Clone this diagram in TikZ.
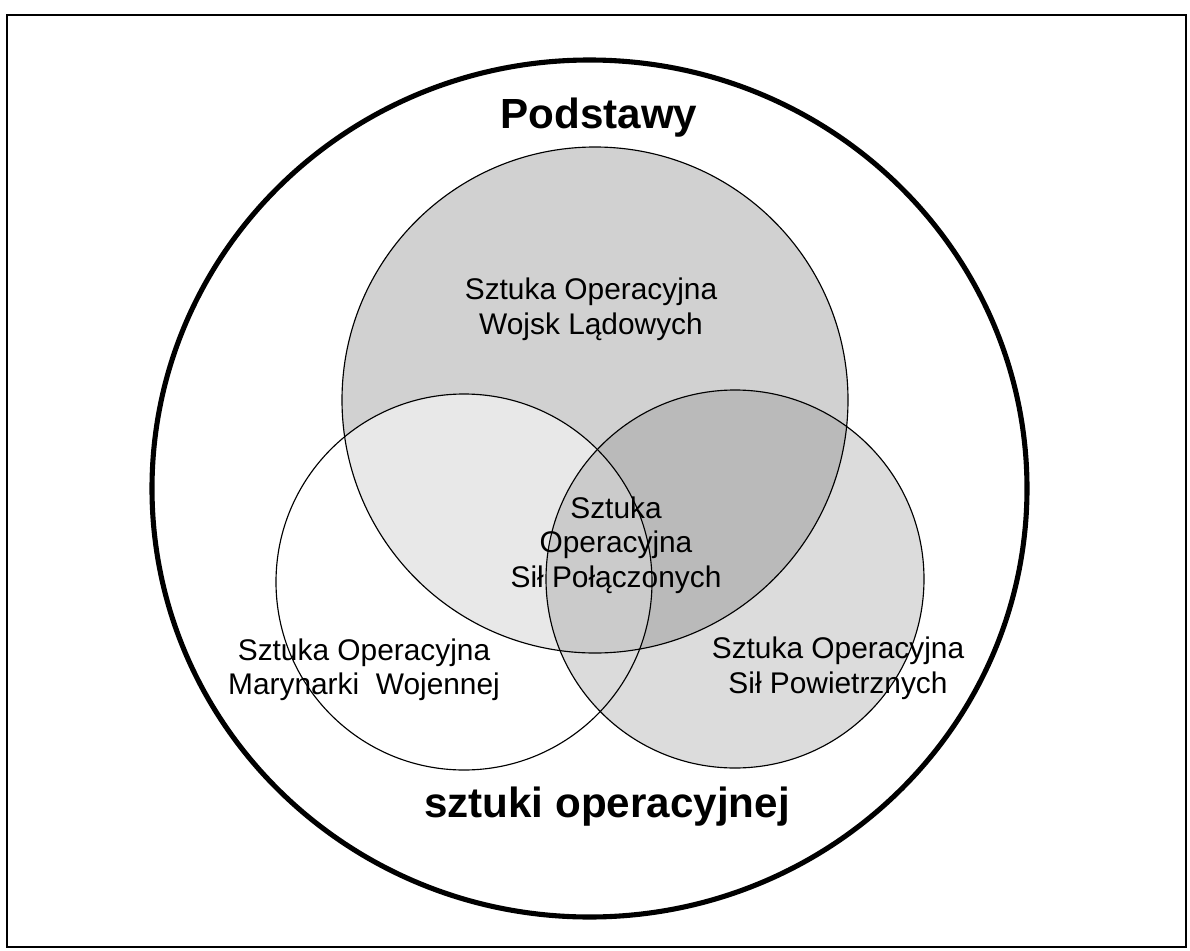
\documentclass[tikz,border=0pt]{standalone}
\usepackage{fontspec}
\setmainfont{Liberation Sans}
\begin{document}
\begin{tikzpicture}[x=0.02cm,y=-0.02cm,
  frame/.style={draw=black,line width=1.1pt},
  outer/.style={draw=black,line width=2.9pt},
  ring/.style={draw=black,line width=0.65pt},
  lbl/.style={font=\fontsize{17}{19.84}\selectfont,align=center,inner sep=0pt,anchor=center},
  ttl/.style={font=\fontsize{24}{28}\selectfont\bfseries,inner sep=0pt,anchor=base}]
\useasboundingbox (0,0) rectangle (1190,950);
% frame
\draw[frame] (7,15) rectangle (1186,947);
% fills
\fill[black!18] (595,400) circle[radius=253];
\fill[white,fill opacity=0.5] (464,582) circle[radius=188];
\fill[black!50,fill opacity=0.28] (735,579) circle[radius=189];
% outlines
\draw[ring] (595,400) circle[radius=253];
\draw[ring] (464,582) circle[radius=188];
\draw[ring] (735,579) circle[radius=189];
\draw[outer] (589.5,488.5) ellipse[x radius=437.5,y radius=428.5];
% texts
\node[ttl] (podstawy) at (599,128) {Podstawy};
\node[ttl] (sztuki) at (607,817) {sztuki operacyjnej};
\node[lbl] (wl) at (591,309.6) {Sztuka Operacyjna\\Wojsk Lądowych};
\node[lbl] (sp) at (616,545.2) {Sztuka\\Operacyjna\\Sił Połączonych};
\node[lbl] (mw) at (364,669.7) {Sztuka Operacyjna\\Marynarki\ \ Wojennej};
\node[lbl] (spw) at (838,668) {Sztuka Operacyjna\\Sił Powietrznych};
\end{tikzpicture}
\end{document}
